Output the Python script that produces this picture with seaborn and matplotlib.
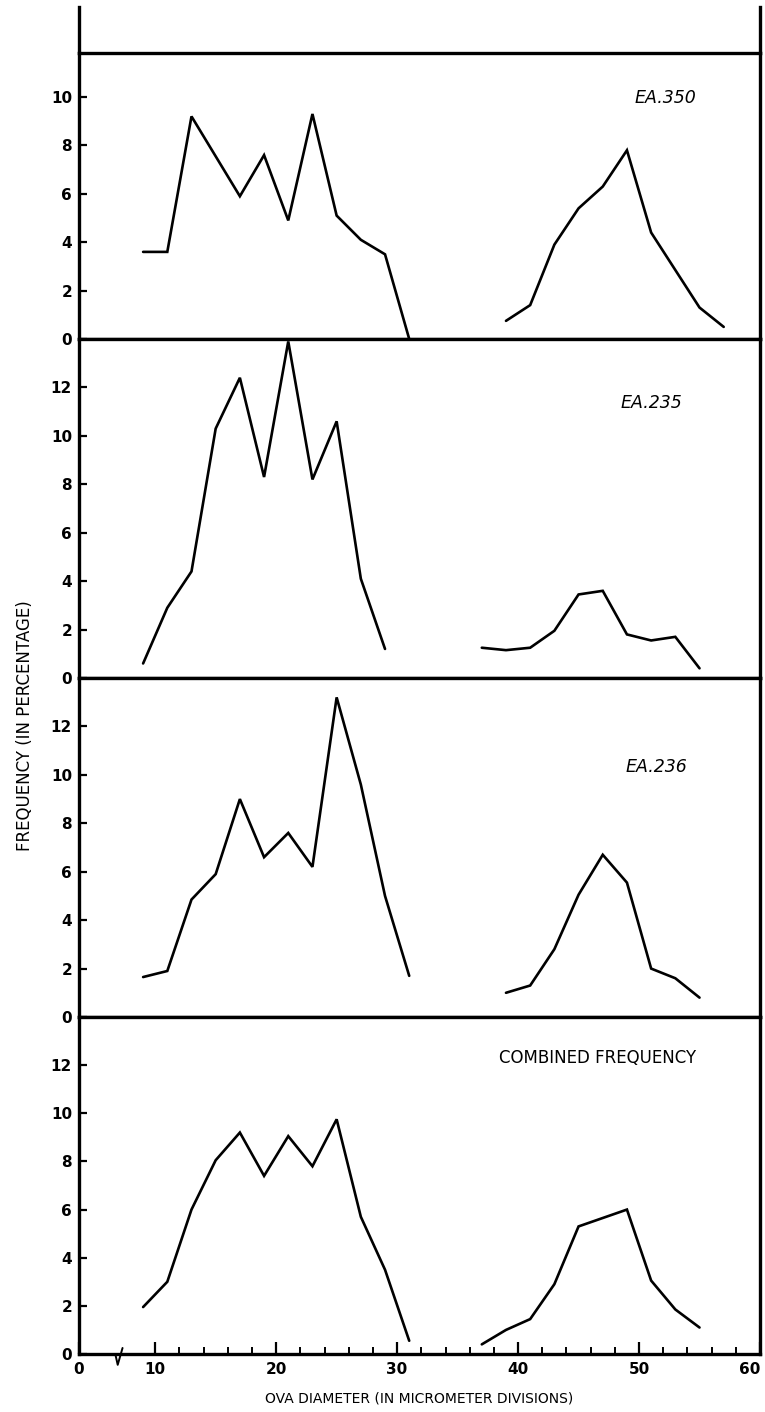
import numpy as np
import pandas as pd
import matplotlib
matplotlib.use("Agg")
import matplotlib.pyplot as plt
import seaborn as sns

# ---------------- data ----------------
panel_names = ["EA.350", "EA.235", "EA.236", "COMBINED FREQUENCY"]

x_350_a = [9, 11, 13, 17, 19, 21, 23, 25, 27, 29, 31]
y_350_a = [3.6, 3.6, 9.2, 5.9, 7.6, 4.9, 9.3, 5.1, 4.1, 3.5, 0.0]
x_350_b = [39, 41, 43, 45, 47, 49, 51, 55, 57]
y_350_b = [0.75, 1.4, 3.9, 5.4, 6.3, 7.8, 4.4, 1.3, 0.5]

x_235_a = [9, 11, 13, 15, 17, 19, 21, 23, 25, 27, 29]
y_235_a = [0.6, 2.9, 4.4, 10.3, 12.4, 8.3, 13.9, 8.2, 10.6, 4.1, 1.2]
x_235_b = [37, 39, 41, 43, 45, 47, 49, 51, 53, 55]
y_235_b = [1.25, 1.15, 1.25, 1.95, 3.45, 3.6, 1.8, 1.55, 1.7, 0.4]

x_236_a = [9, 11, 13, 15, 17, 19, 21, 23, 25, 27, 29, 31]
y_236_a = [1.65, 1.9, 4.85, 5.9, 9.0, 6.6, 7.6, 6.2, 13.2, 9.6, 5.0, 1.7]
x_236_b = [39, 41, 43, 45, 47, 49, 51, 53, 55]
y_236_b = [1.0, 1.3, 2.8, 5.05, 6.7, 5.55, 2.0, 1.6, 0.8]

x_comb_a = [9, 11, 13, 15, 17, 19, 21, 23, 25, 27, 29, 31]
y_comb_a = [1.95, 3.0, 6.0, 8.05, 9.2, 7.4, 9.05, 7.8, 9.75, 5.7, 3.5, 0.55]
x_comb_b = [37, 39, 41, 43, 45, 47, 49, 51, 53, 55]
y_comb_b = [0.4, 1.0, 1.45, 2.9, 5.3, 5.65, 6.0, 3.05, 1.85, 1.1]

x_tick_vals = [10, 20, 30, 40, 50, 60]
x_tick_labels = ["10", "20", "30", "40", "50", "60"]
y_ticks_top = [0, 2, 4, 6, 8, 10]
y_ticks_other = [0, 2, 4, 6, 8, 10, 12]

segments = [
    [(x_350_a, y_350_a), (x_350_b, y_350_b)],
    [(x_235_a, y_235_a), (x_235_b, y_235_b)],
    [(x_236_a, y_236_a), (x_236_b, y_236_b)],
    [(x_comb_a, y_comb_a), (x_comb_b, y_comb_b)],
]

# ---------------- styling ----------------
sns.set_style("ticks")
plt.rcParams["font.family"] = ["DejaVu Sans"]
for k in ["text.color", "axes.labelcolor", "xtick.color", "ytick.color",
          "axes.edgecolor"]:
    plt.rcParams[k] = "black"

W, H = 765, 1412
fig = plt.figure(figsize=(W / 100, H / 100), dpi=100)

left_px, right_px = 79, 760
def frac_rect(top_px, bot_px):
    return [left_px / W, 1 - bot_px / H, (right_px - left_px) / W, (bot_px - top_px) / H]

panel_px = [(53, 339), (339, 678), (678, 1017), (1017, 1354)]
y_tops = [11.82, 14.0, 14.0, 14.0]
label_pos = [(52.2, 9.96), (51.0, 11.36), (51.4, 10.33), (46.6, 12.28)]

XMIN, XMAX = 3.7, 60
SPINE_W = 2.4
LINE_W = 1.9

# top stub (only the vertical borders continue upward)
ax0 = fig.add_axes(frac_rect(7, 53))
ax0.set_xticks([]); ax0.set_yticks([])
for s in ["top", "bottom"]:
    ax0.spines[s].set_visible(False)
for s in ["left", "right"]:
    ax0.spines[s].set_linewidth(SPINE_W)
    ax0.spines[s].set_color("black")

axes = []
for i, (tp, bp) in enumerate(panel_px):
    ax = fig.add_axes(frac_rect(tp, bp))
    axes.append(ax)
    for xs, ys in segments[i]:
        df = pd.DataFrame({"x": xs, "y": ys})
        sns.lineplot(data=df, x="x", y="y", ax=ax, color="black",
                     linewidth=LINE_W, sort=False, estimator=None,
                     solid_joinstyle="miter", clip_on=False)
    ax.set_xlim(XMIN, XMAX)
    ax.set_ylim(0, y_tops[i])
    for s in ax.spines.values():
        s.set_linewidth(SPINE_W)
        s.set_color("black")
    ax.set_xlabel("")
    ax.set_ylabel("")
    yt = y_ticks_top if i == 0 else y_ticks_other
    ax.set_yticks(yt)
    ax.set_yticklabels([str(v) for v in yt], fontsize=11, fontweight="bold")
    ax.tick_params(axis="y", direction="in", length=6, width=1.6, pad=5,
                   left=True, right=False)
    ax.text(label_pos[i][0], label_pos[i][1], panel_names[i], ha="center",
            va="center", fontsize=12.5 if i < 3 else 12,
            style="italic" if i < 3 else "normal")
    if i < 3:
        ax.set_xticks([])
    else:
        ax.set_xticks([XMIN] + x_tick_vals)
        ax.set_xticklabels(["0"] + x_tick_labels, fontsize=11, fontweight="bold")
        ax.get_xticklabels()[-1].set_horizontalalignment("right")
        ax.set_xticks([v for v in range(12, 60, 2) if v % 10 != 0], minor=True)
        ax.tick_params(axis="x", which="major", direction="in", length=9,
                       width=1.6, pad=6, bottom=True, top=False)
        ax.tick_params(axis="x", which="minor", direction="in", length=5,
                       width=1.4, bottom=True, top=False)
        # axis break mark
        bx = 6.8
        ax.plot([bx - 0.5, bx - 0.1, bx + 0.1, bx + 0.5], [0.0, 0.0, -0.45, 0.25],
                color="black", lw=1.4, clip_on=False)
        ax.set_xlabel("OVA DIAMETER (IN MICROMETER DIVISIONS)", fontsize=10,
                      labelpad=10)

fig.text(25 / W, 1 - 726 / H, "FREQUENCY (IN PERCENTAGE)", rotation=90,
         ha="center", va="center", fontsize=12)

fig.savefig("out.png", dpi=100, facecolor="white")
